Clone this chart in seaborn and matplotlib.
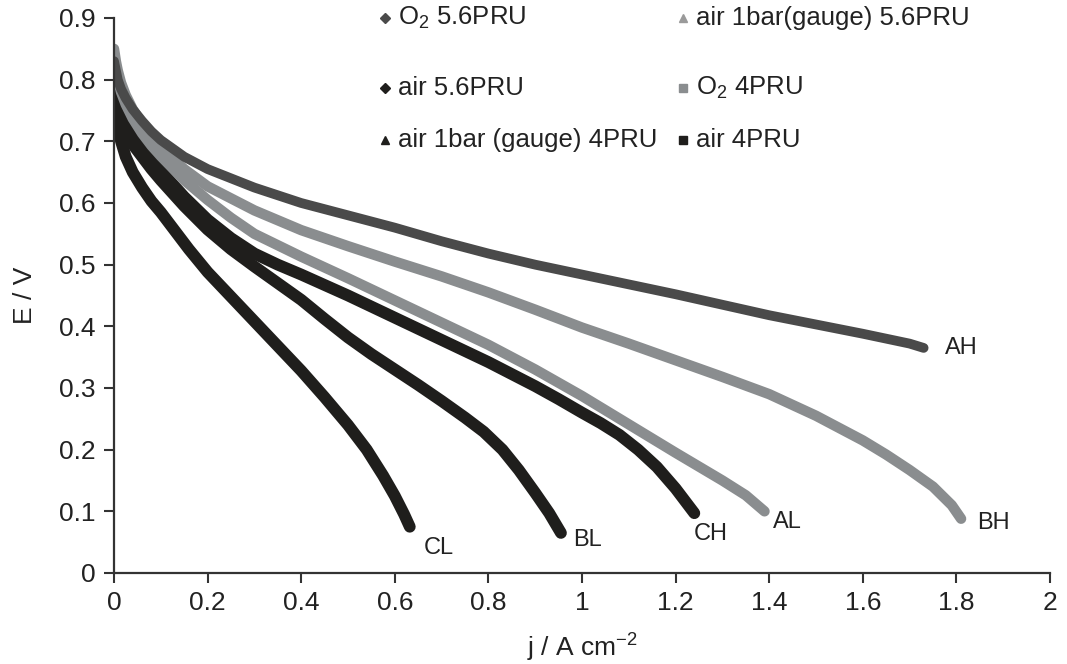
import numpy as np
import pandas as pd
import matplotlib
matplotlib.use("Agg")
import matplotlib.pyplot as plt
import seaborn as sns

# ---------------- data ----------------
AH_j = [0, 0.004, 0.008, 0.015, 0.025, 0.04, 0.06, 0.08, 0.1, 0.15, 0.2, 0.3, 0.4, 0.5, 0.6, 0.7,
        0.8, 0.9, 1.0, 1.1, 1.2, 1.3, 1.4, 1.5, 1.6, 1.7, 1.73]
AH_E = [0.83, 0.815, 0.80, 0.785, 0.77, 0.752, 0.733, 0.716, 0.702, 0.675, 0.655, 0.625, 0.60, 0.58,
        0.56, 0.538, 0.518, 0.50, 0.484, 0.468, 0.452, 0.435, 0.418, 0.403, 0.388, 0.372, 0.365]

BH_j = [0, 0.004, 0.008, 0.015, 0.025, 0.04, 0.06, 0.08, 0.1, 0.15, 0.2, 0.3, 0.4, 0.5, 0.6, 0.7,
        0.8, 0.9, 1.0, 1.1, 1.2, 1.3, 1.4, 1.5, 1.6, 1.65, 1.7, 1.75, 1.79, 1.81]
BH_E = [0.85, 0.83, 0.815, 0.795, 0.775, 0.752, 0.728, 0.708, 0.69, 0.655, 0.627, 0.588, 0.556, 0.53,
        0.505, 0.481, 0.455, 0.427, 0.398, 0.372, 0.345, 0.318, 0.29, 0.255, 0.215, 0.192, 0.167,
        0.14, 0.11, 0.088]

AL_j = [0, 0.004, 0.008, 0.015, 0.025, 0.04, 0.06, 0.08, 0.1, 0.15, 0.2, 0.25, 0.3, 0.4, 0.5, 0.6,
        0.7, 0.8, 0.9, 1.0, 1.1, 1.2, 1.3, 1.35, 1.39]
AL_E = [0.84, 0.82, 0.80, 0.78, 0.76, 0.737, 0.713, 0.693, 0.676, 0.637, 0.605, 0.576, 0.55, 0.513,
        0.478, 0.442, 0.406, 0.37, 0.33, 0.287, 0.241, 0.195, 0.15, 0.126, 0.10]

CH_j = [0, 0.004, 0.008, 0.015, 0.025, 0.04, 0.06, 0.08, 0.1, 0.15, 0.2, 0.25, 0.3, 0.35, 0.4, 0.5,
        0.6, 0.7, 0.8, 0.9, 0.95, 1.0, 1.04, 1.08, 1.12, 1.16, 1.2, 1.24]
CH_E = [0.82, 0.795, 0.775, 0.755, 0.735, 0.712, 0.69, 0.67, 0.652, 0.61, 0.573, 0.543, 0.518, 0.50,
        0.484, 0.45, 0.414, 0.378, 0.342, 0.303, 0.282, 0.26, 0.243, 0.224, 0.20, 0.172, 0.137, 0.097]

BL_j = [0, 0.004, 0.008, 0.015, 0.025, 0.04, 0.06, 0.08, 0.1, 0.15, 0.2, 0.25, 0.3, 0.35, 0.4, 0.45,
        0.5, 0.55, 0.6, 0.65, 0.7, 0.75, 0.79, 0.83, 0.865, 0.9, 0.93, 0.955]
BL_E = [0.80, 0.775, 0.755, 0.735, 0.715, 0.695, 0.675, 0.655, 0.637, 0.595, 0.557, 0.525, 0.497,
        0.47, 0.443, 0.412, 0.382, 0.355, 0.33, 0.305, 0.279, 0.252, 0.229, 0.20, 0.167, 0.13,
        0.097, 0.065]

CL_j = [0, 0.004, 0.008, 0.015, 0.025, 0.04, 0.06, 0.08, 0.1, 0.13, 0.16, 0.2, 0.25, 0.3, 0.35, 0.4,
        0.45, 0.5, 0.54, 0.575, 0.6, 0.62, 0.632]
CL_E = [0.78, 0.75, 0.725, 0.70, 0.675, 0.65, 0.625, 0.603, 0.585, 0.555, 0.525, 0.488, 0.448, 0.408,
        0.368, 0.328, 0.285, 0.24, 0.20, 0.158, 0.125, 0.095, 0.075]

curve_names = ["CL", "BL", "CH", "AL", "BH", "AH"]
legend_labels = ["O$_2$ 5.6PRU", "air 5.6PRU", "air 1bar (gauge) 4PRU",
                 "air 1bar(gauge) 5.6PRU", "O$_2$ 4PRU", "air 4PRU"]
x_ticks = [0, 0.2, 0.4, 0.6, 0.8, 1, 1.2, 1.4, 1.6, 1.8, 2]
x_tick_labels = ["0", "0.2", "0.4", "0.6", "0.8", "1", "1.2", "1.4", "1.6", "1.8", "2"]
y_ticks = [0, 0.1, 0.2, 0.3, 0.4, 0.5, 0.6, 0.7, 0.8, 0.9]
y_tick_labels = ["0", "0.1", "0.2", "0.3", "0.4", "0.5", "0.6", "0.7", "0.8", "0.9"]

# ---------------- style ----------------
sns.set_theme(style="ticks")
plt.rcParams['font.family'] = ['Liberation Sans', 'DejaVu Sans']
plt.rcParams['mathtext.default'] = 'regular'

BLACK = "#1f1e1c"
DARK = "#4a4a4a"
GRAY = "#8a8d8f"
TEXT = "#222222"

fig = plt.figure(figsize=(10.67, 6.64), dpi=100)
ax = fig.add_axes([114 / 1067, 91 / 664, 936 / 1067, 555 / 664])

data = {"AH": (AH_j, AH_E), "BH": (BH_j, BH_E), "AL": (AL_j, AL_E),
        "CH": (CH_j, CH_E), "BL": (BL_j, BL_E), "CL": (CL_j, CL_E)}
style = {"CL": (BLACK, 8.5), "BL": (BLACK, 8.5), "CH": (BLACK, 8.5),
         "AL": (GRAY, 7.5), "BH": (GRAY, 7.5), "AH": (DARK, 7.0)}
# label offsets from curve end (pixels)
label_off = {"AH": (21, 0), "BH": (16, -4), "AL": (8, -11),
             "CH": (-1, -21), "BL": (12, -7), "CL": (14, -21)}

for name in curve_names:
    j, E = data[name]
    df = pd.DataFrame({"j": j, "E": E})
    col, lw = style[name]
    sns.lineplot(data=df, x="j", y="E", ax=ax, color=col, lw=lw, sort=False,
                 estimator=None, legend=False, solid_capstyle="round",
                 solid_joinstyle="round")
    dx, dy = label_off[name]
    ax.annotate(name, xy=(j[-1], E[-1]), xytext=(dx * 0.72, dy * 0.72),
                textcoords="offset points", ha="left", va="center",
                fontsize=17, color=TEXT)

ax.set_xlim(0, 2)
ax.set_ylim(0, 0.9)
ax.set_xticks(x_ticks)
ax.set_xticklabels(x_tick_labels)
ax.set_yticks(y_ticks)
ax.set_yticklabels(y_tick_labels)
ax.tick_params(axis="both", direction="out", length=7, width=1.5, color="#333333",
               labelsize=19, labelcolor=TEXT, pad=6)
for s in ["top", "right"]:
    ax.spines[s].set_visible(False)
for s in ["left", "bottom"]:
    ax.spines[s].set_linewidth(1.6)
    ax.spines[s].set_color("#333333")

ax.set_xlabel("j / A cm$^{-2}$", fontsize=19, color=TEXT, labelpad=12)
ax.set_ylabel("E / V", fontsize=19, color=TEXT, labelpad=16)

# legend (manual, two columns)
leg_markers = [("D", DARK), ("D", BLACK), ("^", BLACK), ("^", "#9a9a9a"), ("s", GRAY), ("s", BLACK)]
col_x = [(385 - 114) / 936, (683 - 114) / 936]
row_y = [(573 - 18) / 555, (573 - 88) / 555, (573 - 140) / 555]
for i, lab in enumerate(legend_labels):
    c, r = divmod(i, 3)
    m, mc = leg_markers[i]
    ax.plot([col_x[c]], [row_y[r]], marker=m, color=mc, markersize=6 if m != "D" else 5,
            transform=ax.transAxes, clip_on=False, linestyle="none")
    ax.text(col_x[c] + 13 / 936, row_y[r], lab, transform=ax.transAxes,
            ha="left", va="center", fontsize=18.5, color=TEXT)

fig.savefig("out.png", dpi=100)
